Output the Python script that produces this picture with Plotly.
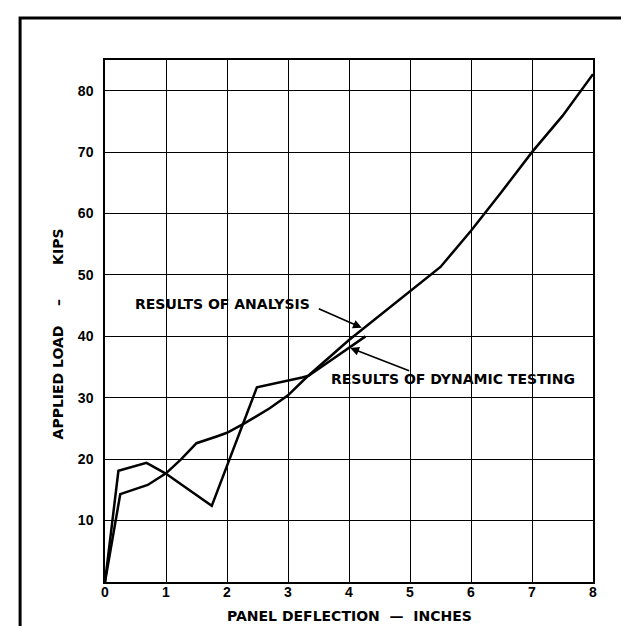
import plotly.graph_objects as go

# Panel deflection (inches) vs applied load (kips)
analysis_x = [0, 0.25, 0.7, 1.0, 1.25, 1.5, 1.83, 2.0, 2.3, 2.7, 3.0, 3.3, 4.0, 4.65, 5.04, 5.5, 6.0, 6.5, 7.0, 7.5, 8.0]
analysis_y = [0, 14.3, 15.8, 17.7, 20.0, 22.6, 23.7, 24.3, 25.9, 28.3, 30.4, 33.3, 39.4, 44.6, 47.6, 51.3, 57.2, 63.5, 70.0, 75.9, 82.7]

testing_x = [0, 0.22, 0.68, 0.99, 1.75, 2.49, 3.23, 3.34, 4.27]
testing_y = [0, 18.1, 19.4, 17.7, 12.4, 31.7, 33.3, 33.6, 40.0]

x_ticks = [0, 1, 2, 3, 4, 5, 6, 7, 8]
y_ticks = [10, 20, 30, 40, 50, 60, 70, 80]

FONT = dict(family="DejaVu Sans", size=14, color="black", weight="bold")
TICKFONT = dict(family="Liberation Sans, Arial", size=14, color="black", weight="bold")
NB = "\u00a0"

fig = go.Figure()
fig.add_trace(go.Scatter(x=analysis_x, y=analysis_y, mode="lines",
                         line=dict(color="black", width=2.5), showlegend=False))
fig.add_trace(go.Scatter(x=testing_x, y=testing_y, mode="lines",
                         line=dict(color="black", width=2.5), showlegend=False))

fig.update_xaxes(range=[0, 8], tickvals=x_ticks, ticktext=[str(v) for v in x_ticks],
                 showgrid=True, gridcolor="black", gridwidth=1.2,
                 showline=True, linecolor="black", linewidth=1.5, mirror=True,
                 zeroline=False, ticks="", tickfont=TICKFONT, ticklabelstandoff=-4)
fig.update_yaxes(range=[0, 85], tickvals=y_ticks, ticktext=[str(v) for v in y_ticks],
                 showgrid=True, gridcolor="black", gridwidth=1.2,
                 showline=True, linecolor="black", linewidth=1.5, mirror=True,
                 zeroline=False, ticks="", tickfont=TICKFONT, ticklabelstandoff=7)

annots = [
    dict(x=0.465, y=45.2, xref="x", yref="y", text="RESULTS OF ANALYSIS", showarrow=False,
         xanchor="left", yanchor="middle", font=FONT),
    dict(x=4.21, y=41.4, ax=3.48, ay=44.6, xref="x", yref="y", axref="x", ayref="y",
         text="", showarrow=True, arrowhead=2, arrowsize=1.1, arrowwidth=1.6, arrowcolor="black"),
    dict(x=3.67, y=33.0, xref="x", yref="y", text="RESULTS OF DYNAMIC TESTING", showarrow=False,
         xanchor="left", yanchor="middle", font=FONT),
    dict(x=4.02, y=38.1, ax=5.01, ay=34.3, xref="x", yref="y", axref="x", ayref="y",
         text="", showarrow=True, arrowhead=2, arrowsize=1.1, arrowwidth=1.6, arrowcolor="black"),
    dict(x=0.5, y=-0.066, xref="paper", yref="paper",
         text="PANEL DEFLECTION " + NB + "\u2014" + NB + " INCHES", showarrow=False,
         xanchor="center", yanchor="middle", font=FONT),
    dict(x=-0.097, y=0.4755, xref="paper", yref="paper",
         text="APPLIED LOAD" + NB * 4 + "\u2013" + NB * 7 + "KIPS", showarrow=False, textangle=-90,
         xanchor="center", yanchor="middle", font=FONT),
]

fig.update_layout(
    width=629, height=626,
    margin=dict(l=97, r=44, t=52, b=52),
    paper_bgcolor="white", plot_bgcolor="white",
    annotations=annots,
    shapes=[dict(type="rect", xref="paper", yref="paper",
                 x0=-0.174, x1=1.078, y0=-0.14, y1=1.0805,
                 line=dict(color="black", width=3), layer="below")],
)

fig.write_html("out.html")
